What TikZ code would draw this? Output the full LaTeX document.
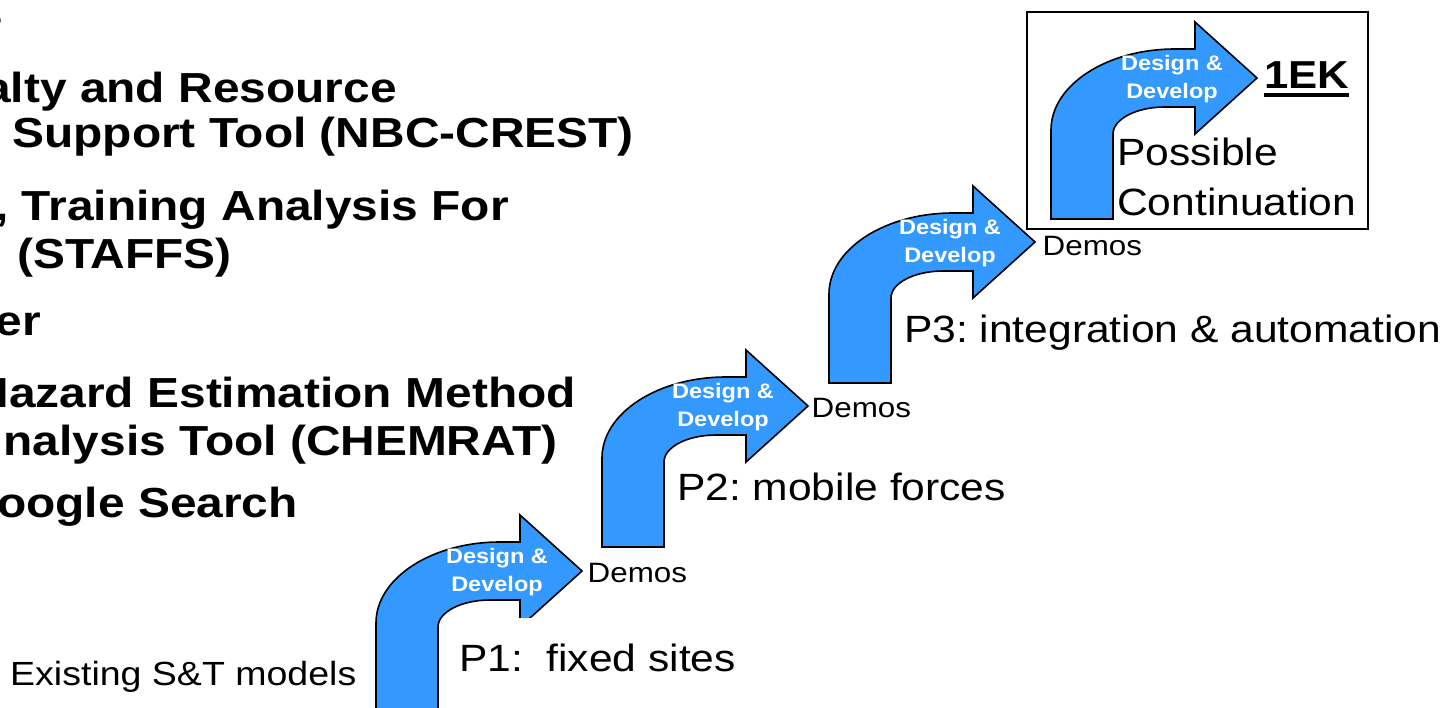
\documentclass[tikz,border=0pt]{standalone}
\usepackage{fontspec}
\setmainfont{Liberation Sans}[FakeStretch=1.12]
\newfontfamily\leftfont{Liberation Sans}[FakeStretch=1.14]
\definecolor{arrowblue}{HTML}{3399FF}
\frenchspacing
\tikzset{
  bentarrow/.style={fill=arrowblue, draw=black, line width=1.6pt, line join=miter},
  boldleft/.style={font=\leftfont\bfseries\fontsize{42}{46}\selectfont, anchor=base east, inner sep=0pt},
  plabel/.style={font=\fontsize{38}{44}\selectfont, anchor=base west, inner sep=0pt},
  demos/.style={font=\fontsize{28}{32}\selectfont, anchor=base west, inner sep=0pt},
  ddtext/.style={font=\bfseries\fontsize{21}{24}\selectfont, text=white, anchor=base, inner sep=0pt},
  framebox/.style={draw=black, line width=1.5pt, fill=none},
}
\newcommand\drawbentarrow[3]{%
  \begin{scope}[shift={(#1,#2)}]
    \draw[bentarrow] (-206,141) -- (-206,52)
      .. controls (-206,7.3) and (-150.5,-29) .. (-82,-29)
      -- (-62,-29) -- (-62,-56) -- (0,0) -- (-62,56) -- (-62,29) -- (-92,29)
      .. controls (-120.7,29) and (-144,41.1) .. (-144,56)
      -- (-144,141) -- cycle;
    \node[ddtext] (#3a) at (-85,-8) {Design \&};
    \node[ddtext] (#3b) at (-85,20) {Develop};
  \end{scope}}
\begin{document}
\begin{tikzpicture}[x=1pt,y=-1pt]
  \useasboundingbox (0,0) rectangle (1448,707);
  \clip (0,0) rectangle (1448,707);
  \fill[white] (0,0) rectangle (1448,707);

  % left bold list (cut off at the left edge)
  \node[boldleft] (l0) at (3.6,27) {s};
  \node[boldleft] (l1) at (397,102) {alty and Resource};
  \node[boldleft] (l2) at (634,147) {Support Tool (NBC-CREST)};
  \node[boldleft] (l3) at (509,220) {, Training Analysis For};
  \node[boldleft] (l4) at (232,268) {(STAFFS)};
  \node[boldleft] (l5) at (41,335) {er};
  \node[boldleft] (l6) at (576,407) {Hazard Estimation Method};
  \node[boldleft] (l7) at (558,455) {nalysis Tool (CHEMRAT)};
  \node[boldleft] (l8) at (298,517) {oogle Search};

  \node[font=\fontsize{33.5}{38}\selectfont, anchor=base west, inner sep=0pt] (exist) at (10,685) {Existing S\&T models};

  % frame of the last step
  \node[framebox, anchor=north west, minimum width=341pt, minimum height=217pt, inner sep=0pt] (ekbox) at (1026,11) {};

  % bent arrows
  \drawbentarrow{582}{571}{dA}
  \drawbentarrow{808}{406}{dB}
  \drawbentarrow{1035}{242}{dC}
  \drawbentarrow{1257}{78}{dD}

  % white text box of P1 covering the first arrow head
  \fill[white] (455,618) rectangle (745,688);

  \node[plabel] (p1) at (459,671) {P1:\ \ fixed sites};
  \node[plabel] (p2) at (677,500) {P2: mobile forces};
  \node[plabel] (p3) at (904,342) {P3: integration \& automation};

  \node[demos] (demo1) at (587.5,582) {Demos};
  \node[demos] (demo2) at (811.5,417) {Demos};
  \node[demos] (demo3) at (1042.5,255) {Demos};

  \node[font=\bfseries\fontsize{39}{44}\selectfont, anchor=base west, inner sep=0pt] (ek) at (1264,88) {1EK};
  \draw[line width=3.5pt] ([yshift=-7pt]ek.base west) -- ([yshift=-7pt]ek.base east);

  \node[plabel] (poss) at (1117,165) {Possible};
  \node[plabel] (cont) at (1117,215) {Continuation};
\end{tikzpicture}
\end{document}
